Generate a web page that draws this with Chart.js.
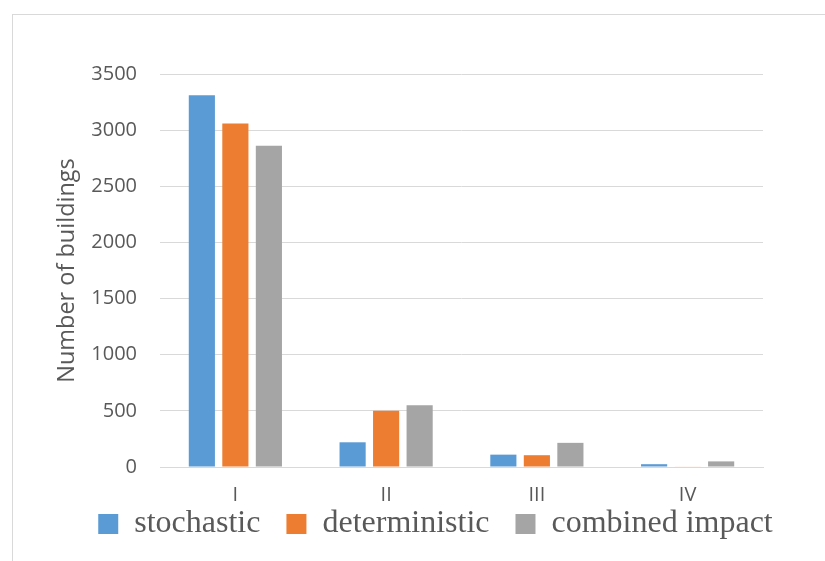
<!DOCTYPE html>
<html>
<head>
<meta charset="utf-8">
<script src="https://cdn.jsdelivr.net/npm/chart.js@4"></script>
<style>
  body { margin: 0; background: #fff; }
  #wrap { position: relative; width: 825px; height: 561px; }
  #frame { position: absolute; left: 12px; top: 14px; width: 830px; height: 560px; border: 1px solid #D9D9D9; box-sizing: border-box; }
  canvas { position: absolute; left: 0; top: 0; }
</style>
</head>
<body>
<div id="wrap">
  <div id="frame"></div>
  <canvas id="chartContainer" width="825" height="561"></canvas>
</div>
<script>
const categories = ['I', 'II', 'III', 'IV'];
const stochastic = [3310, 220, 110, 25];
const deterministic = [3060, 500, 105, 5];
const combinedImpact = [2860, 550, 215, 50];
const yTicks = [0, 500, 1000, 1500, 2000, 2500, 3000, 3500];

const textColor = '#595959';
const gridColor = '#D9D9D9';

// legend sits a bit tighter and further right, like the excel original
const legendShift = {
  id: 'legendShift',
  beforeLayout(chart) {
    const lg = chart.legend;
    if (lg && !lg._patched) {
      const fit = lg.fit;
      lg.fit = function () { fit.call(this); this.height -= 3; };
      lg._patched = true;
    }
  },
  afterLayout(chart) {
    const lg = chart.legend;
    lg.left += 54; lg.right += 54;
    lg.top -= 9; lg.bottom -= 9;
  }
};

const ctx = document.getElementById('chartContainer').getContext('2d');

window.myChart = new Chart(ctx, {
  type: 'bar',
  data: {
    labels: categories,
    datasets: [
      { label: 'stochastic', data: stochastic, backgroundColor: '#5B9BD5' },
      { label: 'deterministic', data: deterministic, backgroundColor: '#ED7D31' },
      { label: 'combined impact', data: combinedImpact, backgroundColor: '#A5A5A5' }
    ]
  },
  plugins: [legendShift],
  options: {
    responsive: false,
    animation: false,
    layout: { padding: { left: 0, right: 62, top: 74, bottom: 5 } },
    datasets: {
      bar: { categoryPercentage: 0.667, barPercentage: 0.78 }
    },
    plugins: {
      tooltip: { enabled: false },
      legend: {
        position: 'bottom',
        labels: {
          color: textColor,
          boxWidth: 20,
          boxHeight: 20,
          padding: 2,
          font: { family: '"Liberation Serif", serif', size: 32 },
          generateLabels: chart => {
            const items = Chart.defaults.plugins.legend.labels.generateLabels(chart);
            // trailing spaces give the wider gap between legend entries
            items.forEach((it, i) => { if (i < items.length - 1) it.text += '   '; });
            return items;
          }
        }
      }
    },
    scales: {
      x: {
        grid: { display: false },
        border: { display: true, color: gridColor, width: 1 },
        ticks: { color: textColor, padding: 8, font: { family: '"Open Sans", sans-serif', size: 20 } }
      },
      y: {
        min: 0,
        max: 3500,
        afterBuildTicks: axis => { axis.ticks = yTicks.map(v => ({ value: v })); },
        afterFit: axis => { axis.width = 160; },
        grid: { color: gridColor, lineWidth: 1, drawTicks: false },
        border: { display: false },
        ticks: {
          color: textColor,
          padding: 23,
          callback: v => String(v),
          font: { family: '"Open Sans", sans-serif', size: 20 }
        },
        title: {
          display: true,
          text: 'Number of buildings',
          color: textColor,
          padding: { top: 53, bottom: 0 },
          font: { family: '"Open Sans", sans-serif', size: 23.5 }
        }
      }
    }
  }
});
</script>
</body>
</html>
